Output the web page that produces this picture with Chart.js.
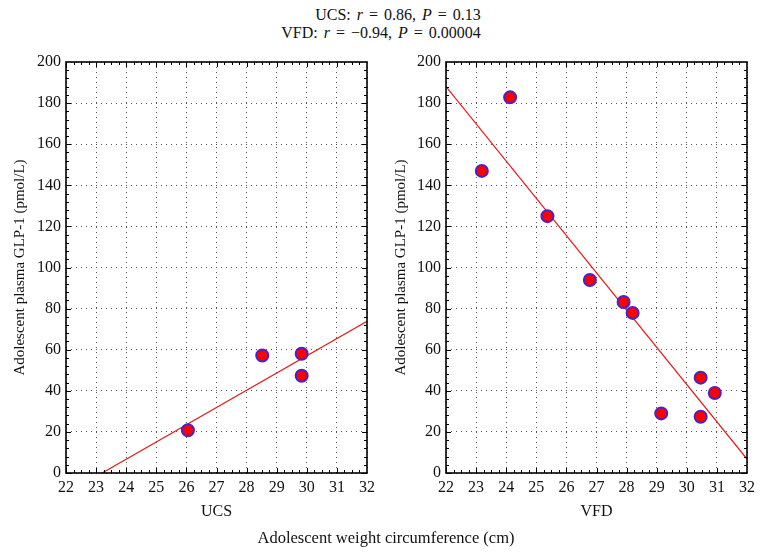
<!DOCTYPE html>
<html><head><meta charset="utf-8">
<script src="https://cdn.jsdelivr.net/npm/chart.js@4.4.0/dist/chart.umd.min.js"></script>
<style>
body{margin:0;background:#fff;width:762px;height:556px;position:relative;overflow:hidden;font-family:"Liberation Serif",serif;color:#111;}
canvas{position:absolute;top:0;}
.t{position:absolute;width:400px;text-align:center;font-size:16px;white-space:pre;line-height:18px;word-spacing:2px;}
.b{position:absolute;width:500px;text-align:center;font-size:16.5px;white-space:pre;line-height:18px;}
</style></head><body>
<div class="t" style="left:198px;top:6px">UCS: <i>r</i> = 0.86, <i>P</i> = 0.13</div>
<div class="t" style="left:181px;top:24px">VFD: <i>r</i> = −0.94, <i>P</i> = 0.00004</div>
<canvas id="c1" width="381" height="556" style="left:0"></canvas>
<canvas id="c2" width="381" height="556" style="left:381px"></canvas>
<div class="b" style="left:136px;top:529px">Adolescent weight circumference (cm)</div>
<script>
// ---- data ----
const ucsX = [26.05, 28.52, 29.83, 29.83];
const ucsY = [20.8, 57.2, 58.0, 47.3];
const vfdX = [23.19, 24.13, 25.37, 26.78, 27.9, 28.2, 29.15, 30.46, 30.46, 30.93];
const vfdY = [147, 182.8, 125, 93.9, 83.2, 77.9, 29, 46.4, 27.4, 38.9];
const ucsFitX = [23.2, 32];
const ucsFitY = [0, 73.8];
const vfdFitX = [22, 32];
const vfdFitY = [188, 6.8];
const xTicks = [22, 23, 24, 25, 26, 27, 28, 29, 30, 31, 32];
const yTicks = [0, 20, 40, 60, 80, 100, 120, 140, 160, 180, 200];
const yTitle = 'Adolescent plasma GLP-1 (pmol/L)';

const pts = (xs, ys) => xs.map((v, i) => ({x: v, y: ys[i]}));
const FONT = {family: '"Liberation Serif", serif', size: 16};
const TFONT = {family: '"Liberation Serif", serif', size: 15};

const frame = {
  id: 'frame',
  afterDatasetsDraw(chart) {
    const {ctx, chartArea: a, scales: {x, y}} = chart;
    ctx.save();
    ctx.strokeStyle = '#000';
    ctx.lineWidth = 1;
    ctx.beginPath();
    for (let i = 0; i < xTicks.length - 1; i++) {
      for (let k = 0; k < 4; k++) {
        const v = xTicks[i] + (xTicks[i + 1] - xTicks[i]) * k / 4;
        const px = Math.round(x.getPixelForValue(v)) + 0.5;
        const len = k === 0 ? 5 : 3;
        ctx.moveTo(px, a.bottom); ctx.lineTo(px, a.bottom - len);
        ctx.moveTo(px, a.top); ctx.lineTo(px, a.top + len);
      }
    }
    for (let i = 0; i < yTicks.length - 1; i++) {
      for (let k = 0; k < 5; k++) {
        const v = yTicks[i] + (yTicks[i + 1] - yTicks[i]) * k / 5;
        const py = Math.round(y.getPixelForValue(v)) + 0.5;
        const len = k === 0 ? 5 : 3;
        ctx.moveTo(a.left, py); ctx.lineTo(a.left + len, py);
        ctx.moveTo(a.right, py); ctx.lineTo(a.right - len, py);
      }
    }
    ctx.stroke();
    ctx.lineWidth = 1.6;
    ctx.strokeRect(a.left, a.top, a.right - a.left, a.bottom - a.top);
    ctx.restore();
  }
};

function makeChart(id, label, xs, ys, fx, fy, yWidth, padRight) {
  return new Chart(document.getElementById(id), {
    type: 'scatter',
    data: {
      datasets: [
        {type: 'line', data: pts(fx, fy), borderColor: '#e31b1b', borderWidth: 1.2,
         pointRadius: 0, fill: false, order: 2, tension: 0},
        {data: pts(xs, ys), backgroundColor: '#ff0000', borderColor: '#4a22c8',
         borderWidth: 2, pointRadius: 6, order: 1}
      ]
    },
    options: {
      responsive: false, animation: false, devicePixelRatio: 1,
      layout: {padding: {top: 62, right: padRight, left: 0, bottom: 0}},
      plugins: {legend: {display: false}, tooltip: {enabled: false}},
      scales: {
        x: {
          type: 'linear', min: xTicks[0], max: xTicks[xTicks.length - 1],
          afterBuildTicks: s => { s.ticks = xTicks.map(v => ({value: v})); },
          afterFit: s => { s.height = 83; },
          grid: {color: '#555', lineWidth: 1, drawTicks: false},
          border: {display: false, dash: [1, 4]},
          ticks: {font: FONT, color: '#111', padding: 5, maxRotation: 0, autoSkip: false},
          title: {display: true, text: label, font: FONT, color: '#111', padding: {top: 0, bottom: 35}}
        },
        y: {
          type: 'linear', min: yTicks[0], max: yTicks[yTicks.length - 1],
          afterBuildTicks: s => { s.ticks = yTicks.map(v => ({value: v})); },
          afterFit: s => { s.width = yWidth; },
          grid: {color: '#555', lineWidth: 1, drawTicks: false},
          border: {display: false, dash: [1, 4]},
          ticks: {font: FONT, color: '#111', padding: 5},
          title: {display: true, text: yTitle, font: TFONT, color: '#111', padding: {top: 11, bottom: 0}}
        }
      }
    },
    plugins: [frame]
  });
}

makeChart('c1', 'UCS', ucsX, ucsY, ucsFitX, ucsFitY, 66, 14);
makeChart('c2', 'VFD', vfdX, vfdY, vfdFitX, vfdFitY, 65, 15);
</script>
</body></html>
